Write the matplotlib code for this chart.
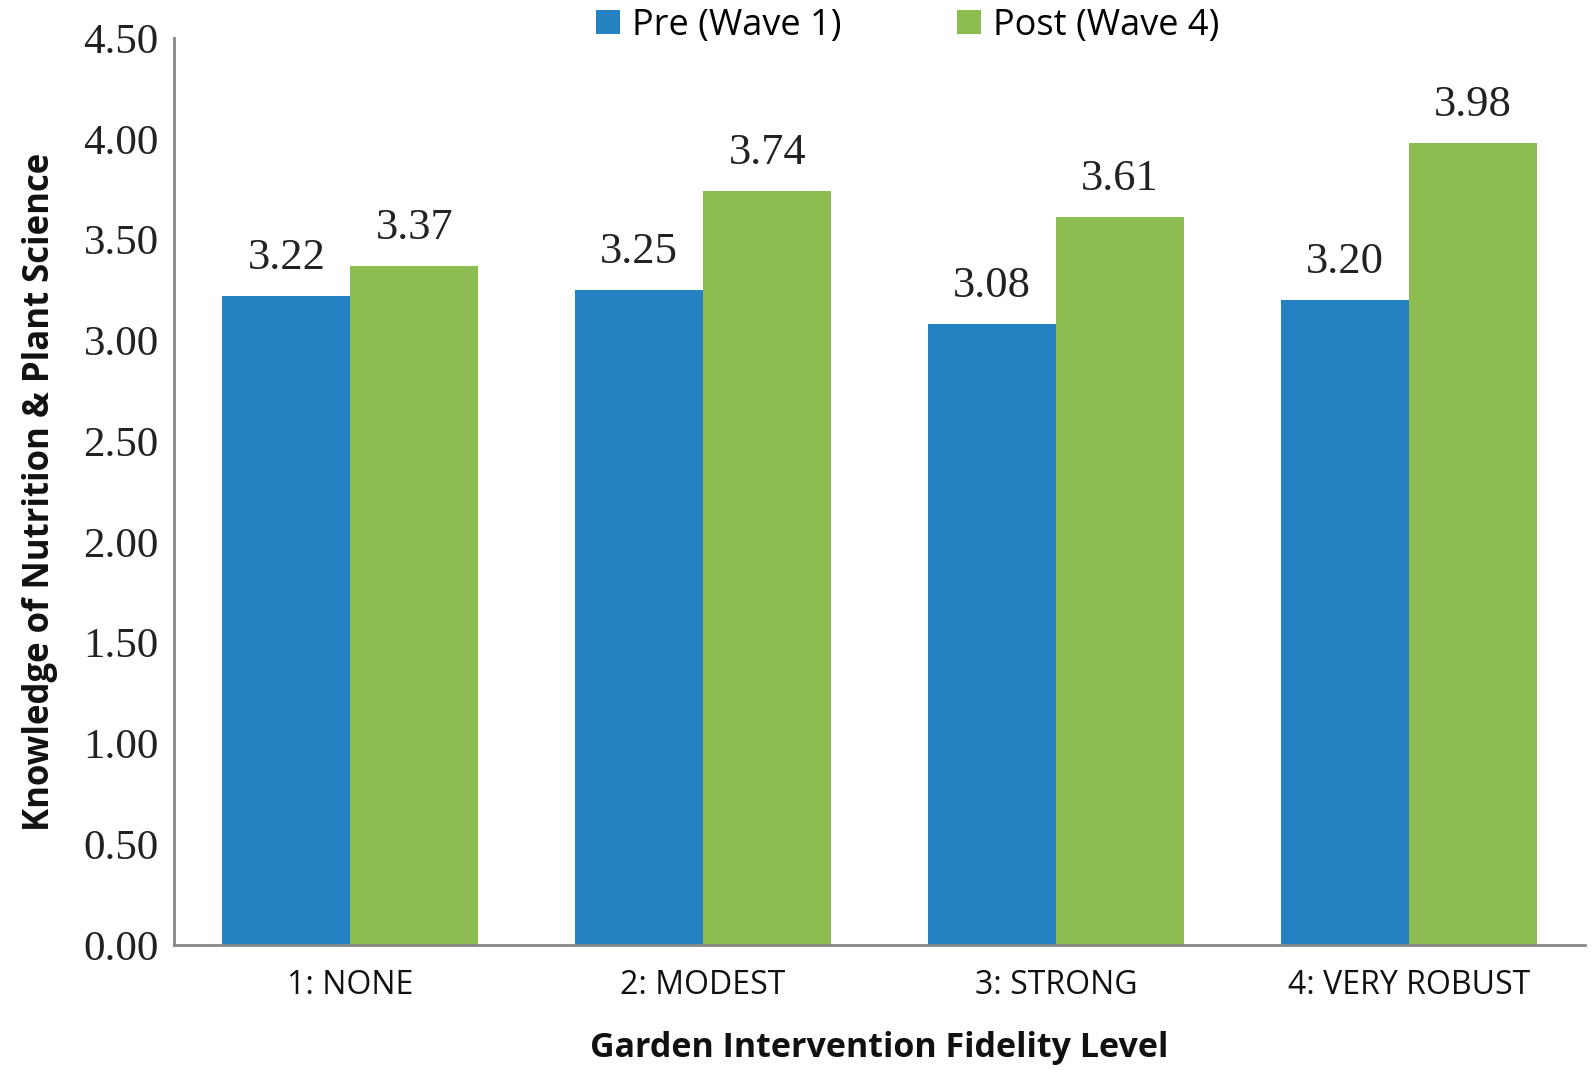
import matplotlib
matplotlib.use("Agg")
import matplotlib.pyplot as plt
import numpy as np

categories = ["1: NONE", "2: MODEST", "3: STRONG", "4: VERY ROBUST"]
pre_values = [3.22, 3.25, 3.08, 3.20]
post_values = [3.37, 3.74, 3.61, 3.98]
series_names = ["Pre (Wave 1)", "Post (Wave 4)"]
y_ticks = [0.0, 0.5, 1.0, 1.5, 2.0, 2.5, 3.0, 3.5, 4.0, 4.5]

blue = "#2581C1"
green = "#8DBC50"

fig = plt.figure(figsize=(15.96, 10.89), dpi=100)
ax = fig.add_axes([174/1596, 144/1089, (1585-174)/1596, (945-38)/1089])

x = np.arange(len(categories))
w = 0.363
b1 = ax.bar(x - w/2, pre_values, w, color=blue, label=series_names[0])
b2 = ax.bar(x + w/2, post_values, w, color=green, label=series_names[1])

serif = ["Liberation Serif", "DejaVu Serif"]
sans = ["Open Sans", "DejaVu Sans"]

for bars, vals in ((b1, pre_values), (b2, post_values)):
    for rect, v in zip(bars, vals):
        ax.annotate(f"{v:.2f}", (rect.get_x() + rect.get_width()/2, v),
                    xytext=(0, 13), textcoords="offset points",
                    ha="center", va="bottom", fontsize=32, family=serif, color="#222222")

ax.set_xlim(-0.5, 3.5)
ax.set_ylim(0, 4.5)
ax.set_yticks(y_ticks)
ax.set_yticklabels([f"{t:.2f}" for t in y_ticks], family=serif, fontsize=31, color="#222222")
ax.set_xticks(x)
ax.set_xticklabels(categories, family=sans, fontsize=23, color="#111111")
ax.tick_params(axis="both", length=0)
ax.tick_params(axis="y", pad=11)
ax.tick_params(axis="x", pad=17)

for s in ("top", "right"):
    ax.spines[s].set_visible(False)
for s in ("left", "bottom"):
    ax.spines[s].set_color("#888888")
    ax.spines[s].set_linewidth(2)

ax.set_xlabel("Garden Intervention Fidelity Level", family=sans, fontsize=24.5,
              fontweight="bold", labelpad=21, color="#111111")
ax.set_ylabel("Knowledge of Nutrition & Plant Science", family=sans, fontsize=25,
              fontweight="bold", labelpad=18, color="#111111")

leg = fig.legend(loc="center", bbox_to_anchor=(908/1596, 1 - 26/1089), ncol=2,
                 frameon=False, prop={"family": sans, "size": 26},
                 handlelength=0.65, handleheight=0.65, handletextpad=0.35,
                 columnspacing=3.2)

fig.savefig("out.png", dpi=100, facecolor="white")
